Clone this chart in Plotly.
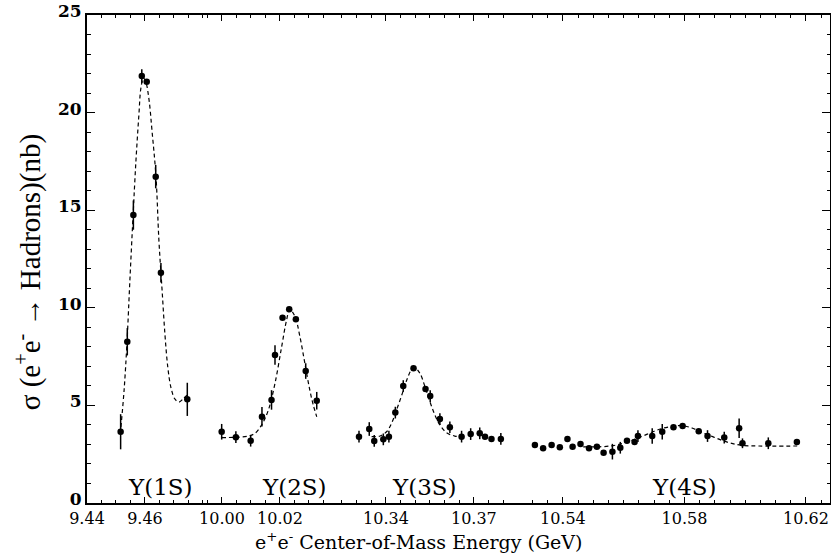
import plotly.graph_objects as go

# ---------------- data ----------------
# Upsilon(1S)
x1 = [9.4516, 9.4539, 9.4560, 9.4589, 9.4606, 9.4637, 9.4655, 9.4746]
y1 = [3.65, 8.26, 14.75, 21.87, 21.58, 16.72, 11.80, 5.31]
e1 = [0.9, 0.7, 0.75, 0.35, 0.1, 0.6, 0.5, 0.85]
fx1 = [9.4517, 9.4528, 9.4538, 9.4548, 9.4559, 9.4569, 9.4579, 9.4586, 9.4595,
       9.4603, 9.4614, 9.4624, 9.4638, 9.4648, 9.4659, 9.4669, 9.4679, 9.4690,
       9.4703, 9.4717, 9.4731, 9.4745]
fy1 = [3.89, 5.79, 8.25, 11.42, 14.75, 17.57, 19.88, 21.26, 21.77,
       21.57, 20.65, 19.11, 16.70, 13.47, 10.91, 8.61, 6.92, 5.89,
       5.33, 5.17, 5.33, 5.53]

# Upsilon(2S)
x2 = [9.9999, 10.0048, 10.0099, 10.0138, 10.0171, 10.0183, 10.0209, 10.0232,
      10.0255, 10.0289, 10.0327]
y2 = [3.65, 3.37, 3.19, 4.42, 5.28, 7.58, 9.49, 9.92, 9.41, 6.76, 5.24]
e2 = [0.4, 0.3, 0.3, 0.5, 0.5, 0.5, 0.1, 0.1, 0.1, 0.4, 0.45]
fx2 = [9.9999, 10.0051, 10.0091, 10.0114, 10.0137, 10.0160, 10.0183, 10.0206,
       10.0223, 10.0234, 10.0252, 10.0269, 10.0286, 10.0303, 10.0315, 10.0327]
fy2 = [3.35, 3.37, 3.43, 3.57, 4.00, 4.76, 6.13, 8.01,
       9.38, 9.92, 9.55, 8.52, 7.16, 5.79, 5.02, 4.42]

# Upsilon(3S)
x3 = [10.3308, 10.3343, 10.3360, 10.3391, 10.3410, 10.3432, 10.3459, 10.3494,
      10.3535, 10.3551, 10.3584, 10.3618, 10.3658, 10.3689, 10.3720, 10.3738,
      10.3760, 10.3792]
y3 = [3.40, 3.79, 3.18, 3.26, 3.40, 4.63, 5.99, 6.90,
      5.84, 5.48, 4.30, 3.88, 3.40, 3.53, 3.57, 3.40, 3.28, 3.28]
e3 = [0.3, 0.35, 0.3, 0.3, 0.3, 0.3, 0.3, 0.1,
      0.1, 0.3, 0.3, 0.3, 0.3, 0.3, 0.3, 0.1, 0.1, 0.3]
fx3 = [10.3351, 10.3380, 10.3402, 10.3419, 10.3436, 10.3454, 10.3471, 10.3488,
       10.3499, 10.3516, 10.3533, 10.3550, 10.3567, 10.3584, 10.3607, 10.3635,
       10.3664]
fy3 = [3.40, 3.43, 3.65, 4.08, 4.76, 5.53, 6.30, 6.85,
       6.93, 6.64, 5.96, 5.19, 4.51, 4.00, 3.60, 3.43, 3.37]

# Upsilon(4S)
x4 = [10.5308, 10.5335, 10.5363, 10.5390, 10.5415, 10.5432, 10.5458, 10.5486,
      10.5512, 10.5534, 10.5563, 10.5589, 10.5611, 10.5636, 10.5647, 10.5694,
      10.5727, 10.5764, 10.5794, 10.5847, 10.5876, 10.5931, 10.5980, 10.5991,
      10.6076, 10.6170]
y4 = [2.97, 2.80, 2.97, 2.85, 3.28, 2.88, 3.02, 2.80,
      2.88, 2.58, 2.63, 2.83, 3.19, 3.13, 3.43, 3.43,
      3.65, 3.88, 3.94, 3.67, 3.43, 3.35, 3.83, 3.06,
      3.06, 3.13]
e4 = [0.15, 0.1, 0.1, 0.1, 0.1, 0.1, 0.1, 0.1,
      0.1, 0.1, 0.4, 0.3, 0.1, 0.1, 0.3, 0.4,
      0.4, 0.1, 0.1, 0.1, 0.3, 0.3, 0.5, 0.25,
      0.3, 0.1]
fx4 = [10.5467, 10.5521, 10.5565, 10.5598, 10.5630, 10.5663, 10.5696, 10.5729,
       10.5762, 10.5794, 10.5827, 10.5860, 10.5893, 10.5926, 10.5959, 10.5991,
       10.6046, 10.6171]
fy4 = [2.88, 2.88, 2.94, 3.06, 3.23, 3.43, 3.65, 3.83,
       3.93, 3.96, 3.83, 3.60, 3.40, 3.19, 3.04, 2.95,
       2.92, 2.92]

# axis segments
seg_ranges = [[9.44, 9.4807], [9.99414, 10.0397], [10.3233, 10.3847], [10.5249, 10.6279]]
seg_domains = [[0.0, 0.1588], [0.1588, 0.3365], [0.3365, 0.5787], [0.5787, 1.0]]
seg_ticks = [[9.44, 9.46], [10.00, 10.02], [10.34, 10.37], [10.54, 10.58, 10.62]]
seg_ticktext = [["9.44", "9.46"], ["10.00", "10.02"], ["10.34", "10.37"],
                ["10.54", "10.58", "10.62"]]
labels = ["Υ(1S)", "Υ(2S)", "Υ(3S)", "Υ(4S)"]
label_x = [9.4652, 10.0252, 10.3533, 10.5800]

data_sets = [(x1, y1, e1, fx1, fy1), (x2, y2, e2, fx2, fy2),
             (x3, y3, e3, fx3, fy3), (x4, y4, e4, fx4, fy4)]

# ---------------- figure ----------------
fig = go.Figure()
for i, (xs, ys, es, fxs, fys) in enumerate(data_sets):
    xa = "x" if i == 0 else f"x{i+1}"
    ya = "y" if i == 0 else f"y{i+1}"
    fig.add_trace(go.Scatter(x=fxs, y=fys, mode="lines", xaxis=xa, yaxis=ya,
                             line=dict(color="black", width=1.2, dash="4px,3px", shape="spline"),
                             hoverinfo="skip", showlegend=False))
    fig.add_trace(go.Scatter(x=xs, y=ys, mode="markers", xaxis=xa, yaxis=ya,
                             marker=dict(color="black", size=6.5),
                             error_y=dict(type="data", array=es, width=0,
                                          thickness=1.5, color="black"),
                             showlegend=False))

tickfont_x = dict(family="DejaVu Serif", size=16, color="black")
layout = dict(
    width=831, height=553,
    margin=dict(l=87, r=1, t=15, b=50),
    plot_bgcolor="white", paper_bgcolor="white",
    showlegend=False,
)
for i in range(4):
    key = "xaxis" if i == 0 else f"xaxis{i+1}"
    ya = "y" if i == 0 else f"y{i+1}"
    layout[key] = dict(
        domain=seg_domains[i], range=seg_ranges[i], anchor=ya,
        tickmode="array", tickvals=seg_ticks[i], ticktext=seg_ticktext[i],
        ticks="inside", ticklen=6, tickwidth=1.2, tickcolor="black",
        minor=dict(tickmode="linear", tick0=seg_ticks[i][0], dtick=0.005,
                   ticks="inside", ticklen=3, tickwidth=1, tickcolor="black"),
        showline=True, linewidth=2, linecolor="black", mirror="allticks",
        showgrid=False, zeroline=False, tickfont=tickfont_x,
    )
    ykey = "yaxis" if i == 0 else f"yaxis{i+1}"
    xa = "x" if i == 0 else f"x{i+1}"
    ydict = dict(range=[0, 25], anchor=xa, showgrid=False, zeroline=False)
    if i == 0:
        ydict.update(tickmode="linear", tick0=0, dtick=5, ticks="inside", ticklen=8,
                     tickwidth=1.2, tickcolor="black",
                     minor=dict(dtick=1, ticks="inside", ticklen=4, tickwidth=1,
                                tickcolor="black"),
                     showline=True, linewidth=2, linecolor="black",
                     ticklabelshift=-4,
                     tickfont=dict(family="DejaVu Serif", size=17, color="black",
                                   weight="bold"))
    elif i == 3:
        ydict.update(matches="y", side="right", tickmode="linear", tick0=0, dtick=5,
                     ticks="inside", ticklen=8, tickwidth=1.2, tickcolor="black",
                     minor=dict(dtick=1, ticks="inside", ticklen=3, tickwidth=1,
                                tickcolor="black"),
                     showticklabels=False, showline=True, linewidth=2,
                     linecolor="black")
    else:
        ydict.update(matches="y", showticklabels=False, ticks="", showline=False)
    layout[ykey] = ydict

annotations = []
for i in range(4):
    xa = "x" if i == 0 else f"x{i+1}"
    ya = "y" if i == 0 else f"y{i+1}"
    annotations.append(dict(x=label_x[i], y=0.82, xref=xa, yref=ya, text=labels[i],
                            showarrow=False, xanchor="center", yanchor="middle",
                            font=dict(family="DejaVu Serif", size=23, color="black")))
annotations.append(dict(x=0.4455, y=-0.078, xref="paper", yref="paper",
                        text="e<sup>+</sup>e<sup>-</sup> Center-of-Mass Energy (GeV)",
                        showarrow=False, xanchor="center", yanchor="middle",
                        font=dict(family="DejaVu Serif", size=19, color="black")))
annotations.append(dict(x=-0.0794, y=0.473, xref="paper", yref="paper",
                        text="σ (e<sup>+</sup>e<sup>-</sup> → Hadrons)(nb)",
                        textangle=-90, showarrow=False, xanchor="center",
                        yanchor="middle",
                        font=dict(family="Liberation Serif", size=29, color="black")))
layout["annotations"] = annotations

fig.update_layout(**layout)
fig.write_html("out.html")
